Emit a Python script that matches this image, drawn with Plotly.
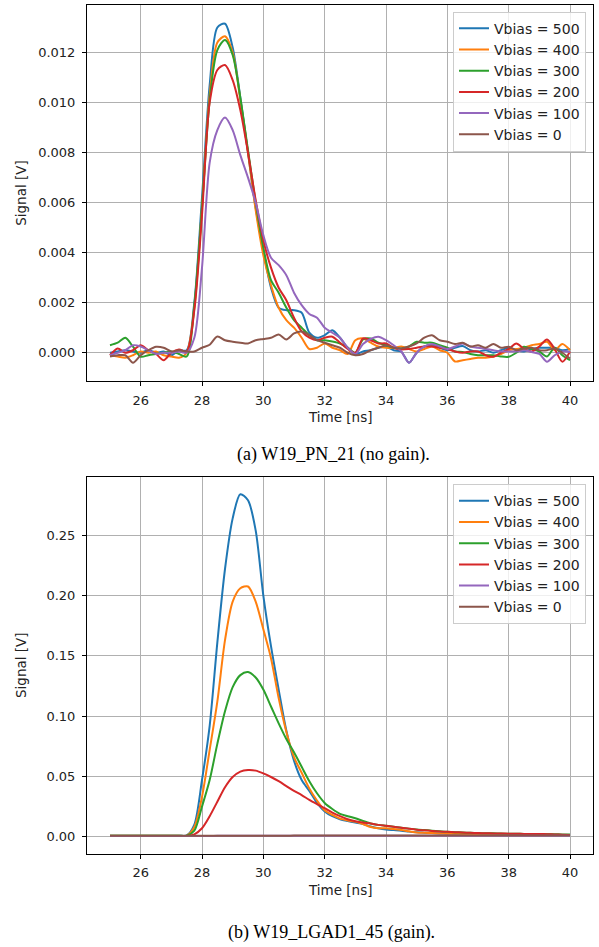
import numpy as np
import plotly.graph_objects as go

# ---------------- data ----------------
time_ns = [round(25.0 + 0.25 * i, 2) for i in range(61)]
labels = ["Vbias = 500", "Vbias = 400", "Vbias = 300", "Vbias = 200", "Vbias = 100", "Vbias = 0"]
colors = ["#1f77b4", "#ff7f0e", "#2ca02c", "#d62728", "#9467bd", "#8c564b"]

# (a) W19_PN_21 -- values in units of 1e-4 V
pn_500 = [0, 0.5, 1, 0.5, 0, 1, 0, 0.5,
          -1, 1, 1, 20, 62, 107, 130, 131.5,
          122, 102, 80, 58, 41, 26, 18, 17,
          17, 16, 8, 6, 7, 9, 6, 2,
          -0.5, 0.5, 1, 2, 2.4, 1, 0.4, -4,
          0, 2.5, 3, 2, 1, 2, 2.7, 1,
          0.5, 1, 0, 1, 2, 1, 0.5, 1.5,
          2, 2, 2, 1, 1.5]
pn_400 = [-1, -1.5, -2, -1, 0.5, 0, 0.5, -1,
          -1.5, -2, 0, 18, 58, 103, 124, 126.5,
          120, 101, 80, 57, 39, 27, 18, 13,
          10, 6, 1.5, 2, 3.7, 2, 1, -0.5,
          5, 5.7, 4, 2.5, 2, 2, 2.5, 1.5,
          0.5, 1.5, 2.5, 1, 0, -3.5, -3, -2.5,
          -2, -2, -1.5, -0.5, 1, 1.5, 2, 3,
          3.5, 4.4, 1, 3.5, 1]
pn_300 = [3, 4, 6, 2.4, -1.6, -1, -0.5, 0,
          0.5, -0.5, -1.5, 19, 58, 101, 121, 125,
          119, 102, 81, 60, 42, 29, 24, 18,
          13, 10, 7, 5, 5, 4.5, 3.7, 2,
          0, 5.3, 5.7, 4, 3, 2, 1.7, 2.5,
          4.4, 4, 4, 3, 2, 0.5, 0.3, -0.5,
          -1, -1, -1, -1.5, -1.6, 0, 2.4, 1.5,
          0.5, -1.5, 2, -1, -3]
pn_200 = [-1, 1.7, 0, 1, 3, 1, -0.5, -3,
          0, 1.3, 0.5, 17, 55, 100, 113, 115,
          109, 97, 80, 61, 45, 34, 26, 21,
          14, 8.5, 6, 5, 6, 6.4, 4, 1.5,
          0, 5.7, 5, 3.7, 3.7, 2, 1.3, 1.5,
          2, 2.5, 2.5, 2, 1.5, 0.5, 0, 0.5,
          0.5, -1, -1.6, 0, 1.5, 3.7, 1.5, 0.5,
          2.5, 5.3, 1.5, -3.6, 0.5]
pn_100 = [-1, 0, 1, 3, 2.5, 1, -0.5, 0,
          0, 0.5, 0, 6, 34, 76, 89, 94,
          89, 79, 70, 60, 47, 38, 35, 31,
          24, 19, 15.5, 14, 10, 8, 6, 2,
          -0.5, 3.5, 5.5, 6.4, 5, 3, 0.5, -4,
          0, 2.5, 3.5, 2.5, 1.5, 2.5, 3.7, 2.5,
          2, 1.5, 1, 0.5, 0.5, 0.5, 1, 0.3,
          -0.5, -3.6, -1, 0.5, 0.3]
pn_0 = [-1.5, -1, -1, -4, -1, 1, 2.4, 2,
        0.5, 1, 0.5, 0.5, 2, 3.2, 6.5, 5,
        4.4, 4, 3.7, 5, 5.5, 6, 7.3, 5.3,
        7.7, 8.5, 7, 5, 4, 3, 2, 0,
        -1, -0.5, 1, 2, 3, 2, 1.7, 2.5,
        3.7, 6, 7, 5, 4.4, 3.5, 4, 2.5,
        3, 2, 3.5, 2, 2.4, 1, 1.7, 2,
        1, 1, 1.7, 0, -2.3]

# (b) W19_LGAD1_45 -- values in units of 1e-3 V
lg_500 = [0.8, 0.8, 0.8, 0.8, 0.8, 0.8, 0.8, 0.8,
          0.8, 0.8, 1, 10, 47, 92, 161, 222,
          264, 284, 279, 254, 200, 158, 122, 88,
          63, 47, 38, 28, 21, 17, 14.5, 13,
          11.7, 10.5, 8.5, 7, 6, 5.5, 5, 4.2,
          3.6, 3.3, 3, 2.7, 2.5, 2.4, 2.3, 2.2,
          2.1, 2.1, 2, 2, 2, 1.9, 1.9, 1.8,
          1.7, 1.6, 1.5, 1.5, 1.4]
lg_400 = [0.8, 0.8, 0.8, 0.8, 0.8, 0.8, 0.8, 0.8,
          0.8, 0.8, 0.8, 8, 33, 72, 112, 163,
          195, 206, 207.5, 195, 172, 148, 115, 87,
          66, 53, 40, 30, 22, 18, 15, 13.5,
          12.5, 10.5, 8, 7, 7, 6.3, 5.5, 4.5,
          3.5, 3.2, 3, 2.7, 2.5, 2.4, 2.3, 2.2,
          2.1, 2.1, 2, 2, 2, 1.9, 1.9, 1.8,
          1.7, 1.6, 1.5, 1.5, 1.4]
lg_300 = [0.8, 0.8, 0.8, 0.8, 0.8, 0.8, 0.8, 0.8,
          0.8, 0.8, 0.8, 5, 25, 47, 77, 104,
          124, 134, 136.5, 132, 122, 108, 94, 81,
          70, 58, 46, 36, 28, 23, 19, 17,
          15.3, 13, 11, 9.8, 9, 8.2, 7.5, 6.7,
          6, 5.5, 5, 4.5, 4, 3.7, 3.5, 3.2,
          3, 2.9, 2.8, 2.6, 2.5, 2.4, 2.3, 2.2,
          2.1, 2, 2, 1.9, 1.8]
lg_200 = [0.6, 0.6, 0.6, 0.6, 0.6, 0.6, 0.6, 0.6,
          0.6, 0.6, 0.6, 2, 7, 17, 29, 41,
          49.5, 54, 55.3, 54.8, 52.5, 49.5, 46, 42,
          38, 34.5, 30.5, 27, 23.7, 20, 17, 14.5,
          12.8, 11.8, 11, 9.8, 9, 8.2, 7.5, 6.6,
          5.8, 5.3, 4.8, 4.4, 4, 3.7, 3.5, 3.2,
          3, 2.9, 2.7, 2.6, 2.5, 2.4, 2.3, 2.2,
          2.2, 2.1, 1.9, 1.7, 1.5]
lg_100 = [0.6, 0.6, 0.6, 0.5, 0.5, 0.6, 0.6, 0.6,
          0.6, 0.6, 0.6, 0.6, 0.6, 0.6, 0.7, 0.7,
          0.7, 0.7, 0.7, 0.7, 0.7, 0.7, 0.7, 0.7,
          0.7, 0.7, 0.7, 0.7, 0.7, 0.7, 0.7, 0.7,
          0.7, 0.7, 0.7, 0.7, 0.7, 0.7, 0.7, 0.7,
          0.7, 0.7, 0.7, 0.7, 0.7, 0.7, 0.7, 0.7,
          0.7, 0.7, 0.7, 0.7, 0.7, 0.7, 0.7, 0.7,
          0.7, 0.7, 0.7, 0.7, 0.7]
lg_0 = [0.8, 0.8, 0.8, 0.8, 0.8, 0.8, 0.8, 0.8,
        0.8, 0.8, 0.8, 0.8, 0.8, 0.8, 0.8, 0.8,
        0.8, 0.8, 0.8, 0.8, 0.8, 0.8, 0.8, 0.8,
        0.9, 0.9, 0.9, 0.9, 0.9, 0.9, 0.9, 0.9,
        0.9, 0.9, 0.9, 0.9, 0.9, 0.9, 0.9, 0.9,
        0.9, 0.9, 0.9, 0.9, 0.9, 0.9, 0.9, 0.9,
        0.9, 0.9, 0.9, 0.9, 0.9, 0.9, 0.9, 0.9,
        0.9, 0.9, 0.9, 0.9, 0.9]

x_ticks = [26, 28, 30, 32, 34, 36, 38, 40]
ya_ticks = [0.0, 0.002, 0.004, 0.006, 0.008, 0.010, 0.012]
yb_ticks = [0.0, 0.05, 0.10, 0.15, 0.20, 0.25]

top_series = [pn_500, pn_400, pn_300, pn_200, pn_100, pn_0]
bot_series = [lg_500, lg_400, lg_300, lg_200, lg_100, lg_0]
for s in top_series + bot_series:
    assert len(s) == len(time_ns), len(s)

# ---------------- figure ----------------
W, H = 599, 947
fig = go.Figure()
for name, vals, col in zip(labels, top_series, colors):
    fig.add_trace(go.Scatter(x=time_ns, y=[v * 1e-4 for v in vals], mode="lines", name=name,
                             line=dict(color=col, width=2, shape="spline", smoothing=0.8),
                             xaxis="x", yaxis="y", legend="legend"))
for name, vals, col in zip(labels, bot_series, colors):
    fig.add_trace(go.Scatter(x=time_ns, y=[v * 1e-3 for v in vals], mode="lines", name=name,
                             line=dict(color=col, width=2, shape="spline", smoothing=0.8),
                             xaxis="x2", yaxis="y2", legend="legend2"))

tickfont = dict(family="DejaVu Sans", size=13, color="#222")
common = dict(showline=True, mirror=True, linecolor="black", linewidth=1,
              ticks="outside", ticklen=4, tickcolor="black", tickwidth=1,
              showgrid=True, gridcolor="#b0b0b0", gridwidth=1, zeroline=False,
              tickfont=tickfont)
xdom = [87 / W, 593 / W]

fig.update_layout(
    width=W, height=H, autosize=False,
    margin=dict(l=0, r=0, t=0, b=0),
    paper_bgcolor="white", plot_bgcolor="white",
    xaxis=dict(domain=xdom, anchor="y", range=[24.25, 40.75], tickvals=x_ticks,
               ticktext=[str(t) for t in x_ticks], ticklabelstandoff=3, **common),
    yaxis=dict(domain=[1 - 381 / H, 1 - 4.5 / H], anchor="x", range=[-0.00113, 0.01392],
               tickvals=ya_ticks, ticktext=[f"{t:.3f}" for t in ya_ticks],
               ticklabelstandoff=4, **common),
    xaxis2=dict(domain=xdom, anchor="y2", range=[24.25, 40.75], tickvals=x_ticks,
                ticktext=[str(t) for t in x_ticks], ticklabelstandoff=3, **common),
    yaxis2=dict(domain=[1 - 853.7 / H, 1 - 477 / H], anchor="x2", range=[-0.0141, 0.2983],
                tickvals=yb_ticks, ticktext=[f"{t:.2f}" for t in yb_ticks],
                ticklabelstandoff=4, **common),
    legend=dict(x=586 / W, xanchor="right", y=1 - 11.7 / H, yanchor="top",
                bgcolor="rgba(255,255,255,0.8)", bordercolor="#cccccc", borderwidth=1,
                font=dict(family="DejaVu Sans", size=14, color="#222")),
    legend2=dict(x=586 / W, xanchor="right", y=1 - 484.2 / H, yanchor="top",
                 bgcolor="rgba(255,255,255,0.8)", bordercolor="#cccccc", borderwidth=1,
                 font=dict(family="DejaVu Sans", size=14, color="#222")),
    showlegend=True,
)

label_font = dict(family="DejaVu Sans", size=13.5, color="#222")
cap_font = dict(family="Liberation Serif", size=18, color="black")
ann = [
    dict(text="Signal [V]", x=21 / W, y=1 - 192.8 / H, textangle=-90, font=label_font),
    dict(text="Signal [V]", x=21 / W, y=1 - 665 / H, textangle=-90, font=label_font),
    dict(text="Time [ns]", x=340 / W, y=1 - 417 / H, font=label_font),
    dict(text="Time [ns]", x=340 / W, y=1 - 890 / H, font=label_font),
    dict(text="(a) W19_PN_21 (no gain).", x=333 / W, y=1 - 455 / H, font=cap_font),
    dict(text="(b) W19_LGAD1_45 (gain).", x=331 / W, y=1 - 932 / H, font=cap_font),
]
for a in ann:
    fig.add_annotation(xref="paper", yref="paper", xanchor="center", yanchor="middle",
                       showarrow=False, **a)

fig.write_html("out.html", config={"displayModeBar": False},
               post_script="document.body.style.margin='0';document.body.style.padding='0';"
                           "document.body.style.overflow='hidden';")
